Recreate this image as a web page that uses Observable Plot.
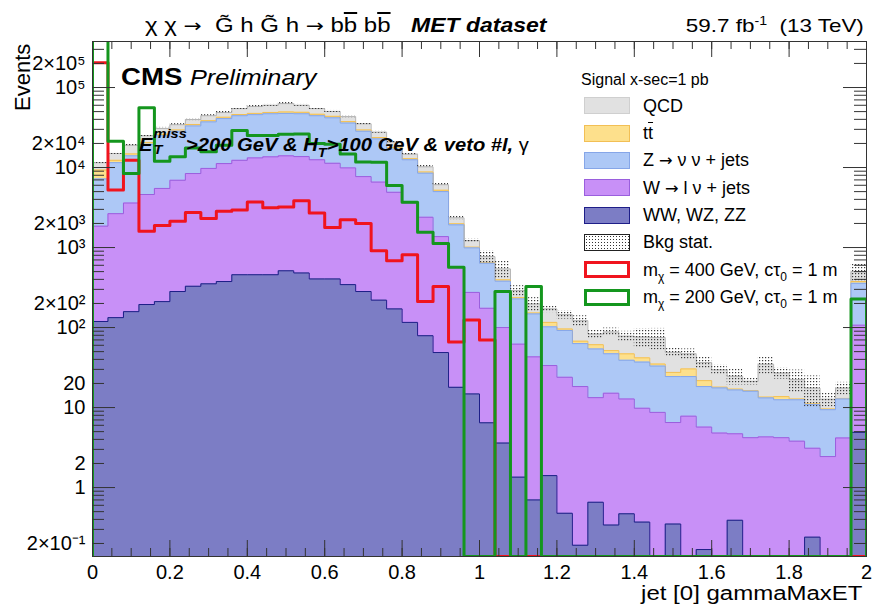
<!DOCTYPE html>
<html><head><meta charset="utf-8">
<script src="https://cdn.jsdelivr.net/npm/d3@7"></script>
<script src="https://cdn.jsdelivr.net/npm/@observablehq/plot@0.6"></script>
<style>
body{margin:0;background:#fff;}
#wrap{position:relative;width:875px;height:613px;font-family:"Liberation Sans",Arial,sans-serif;color:#000;overflow:hidden;}
#wrap svg{position:absolute;left:0;top:0;}
.ov{position:absolute;white-space:nowrap;line-height:1;}
.ol{text-decoration:overline;}
.ar{font-family:"DejaVu Sans",sans-serif;font-size:0.9em;}
.lg{position:absolute;left:584px;width:46px;height:17px;box-sizing:border-box;}
.lt{position:absolute;left:643px;font-size:18px;line-height:1;white-space:nowrap;}
.lt sub{font-size:12px;vertical-align:-5px;line-height:0;}
</style></head><body><div id="wrap"></div>
<script>
// ---------- data (50 bins of width 0.04 on [0,2]) ----------
const binWidth = 0.04;
// cumulative stack tops
const stackTotal = [11500,15000,19000,25000,30800,34300,39800,44400,48700,54600,58000,60000,63000,60000,54600,50300,43300,35200,27700,20800,14700,10200,6100,2350,1220,770,540,290,197,171,145,122,83,88,78,76,75,49,47,36.5,29.6,24.6,21.3,34.8,27,22.3,17.5,12.7,17.5,500];
const stackTT = [9300,12300,14800,20500,26000,29500,34500,38500,42500,46000,47500,48800,49500,49000,46300,43600,37500,29500,23700,17700,12900,8800,5200,1980,1010,652,395,236,152,116,96,67.5,61,51.5,46.9,41.8,35,27.5,30.4,21.7,18,17,16.3,13.5,13.7,12.8,11.1,9.6,13,376];
const stackZ = [7200,11500,14000,19500,24900,28400,33100,37200,40900,44400,45800,47000,47500,47000,44400,41800,36000,28400,22800,17000,12500,8500,5000,1920,990,636,380,228,148,102,92,63,54,47,39,37,33,24.4,24.4,18.3,17.6,16.6,16,13.2,12.5,12.5,10.9,9.4,12.8,357];
const stackW = [1850,2650,3600,4600,5480,6930,8410,9750,11200,12300,13200,13600,14000,13700,12500,11300,9900,7700,6570,4900,3600,2390,1370,560,275,174,100,62,43,33.5,23.9,18.3,13.3,15.1,12.8,9.8,8.7,6.5,7.8,5.7,4.8,4.7,4.2,4.3,4.2,3.8,3.1,2.44,4.17,107];
const stackVV = [119,133,158,194,211,282,328,352,376,457,457,457,512,481,405,405,344,282,220,171,116,79,48.7,17.9,14.8,6.45,3.6,1.35,0.70,1.41,0.477,0.19,0.655,0.34,0.47,0.37,0,0.35,0,0.168,0,0.39,0,0,0,0,0.24,0,0,4.9];
// relative background stat. uncertainty
const statErr = [0.03,0.03,0.03,0.03,0.03,0.03,0.03,0.03,0.03,0.03,0.03,0.03,0.03,0.03,0.03,0.03,0.03,0.03,0.03,0.03,0.03,0.04,0.04,0.05,0.06,0.18,0.25,0.15,0.2,0.1,0.12,0.15,0.12,0.12,0.15,0.28,0.3,0.12,0.15,0.18,0.15,0.22,0.1,0.25,0.16,0.32,0.42,0.2,0.18,0.25];
// signals
const sig400 = [204000,5250,12300,1600,1890,2130,2740,2310,2840,2950,3700,3150,3220,3840,2700,1780,2220,1990,910,685,812,212,325,66,124,70,0,0,0,0,0,0,0,0,0,0,0,0,0,0,0,0,0,0,0,0,0,0,0,0];
const sig200 = [500000,21300,8400,55800,12000,13600,17500,15700,19000,29000,25200,25200,26000,26300,20000,19500,14800,11700,11600,5960,3690,1550,1120,565,0,0,283,0,325,0,0,0,0,0,0,0,0,0,0,0,0,0,0,0,0,0,0,0,0,228];
// tick labels
const xLabelValues = [0,0.2,0.4,0.6,0.8,1,1.2,1.4,1.6,1.8,2];
const xLabelText = ["0","0.2","0.4","0.6","0.8","1","1.2","1.4","1.6","1.8","2"];
const yLabelValues = [0.2,1,2,10,20,100,200,1000,2000,10000,20000,100000,200000];
const yLabelText = ["2×10⁻¹","1","2","10","20","10²","2×10²","10³","2×10³","10⁴","2×10⁴","10⁵","2×10⁵"];

// ---------- layout / style ----------
const W = 875, H = 613, mL = 92, mR = 9, mT = 41, mB = 57;
const fW = W - mL - mR, fH = H - mT - mB;
const yMin = 0.1375, yMax = 3.76e5;
const nB = stackTotal.length;
const edges = d3.range(nB + 1).map(i => +(i * binWidth).toFixed(2));

function area(vals) {
  const p = vals.map((v, i) => ({x: edges[i], y: Math.max(v, yMin), y0: yMin}));
  p.push({x: edges[nB], y: Math.max(vals[nB - 1], yMin), y0: yMin});
  return p;
}
function outline(vals) {
  const p = [{x: 0, y: yMin}];
  vals.forEach((v, i) => p.push({x: edges[i], y: Math.max(v, yMin)}));
  p.push({x: edges[nB], y: Math.max(vals[nB - 1], yMin)});
  p.push({x: edges[nB], y: yMin});
  return p;
}
const layers = [
  {v: stackTotal, fill: "#e1e1e1", stroke: "#b4b4b4"},
  {v: stackTT, fill: "#fde08c", stroke: "#f2bf55"},
  {v: stackZ, fill: "#adc8f6", stroke: "#86a6e8"},
  {v: stackW, fill: "#c890f7", stroke: "#9a5fdd"},
  {v: stackVV, fill: "#7c7dc5", stroke: "#1e1e88"}
];
const hatch = stackTotal.map((t, i) => ({x1: edges[i], x2: edges[i + 1], lo: t * (1 - statErr[i]), hi: t * (1 + statErr[i])}));

const xMinor = d3.range(0, 41).map(i => +(i * 0.05).toFixed(2)).filter(v => v > 0 && v < 2);
const xMajor = xMinor.filter(v => Math.abs(v / 0.2 - Math.round(v / 0.2)) < 1e-6);
const yMajor = [], yMinorT = [];
for (let n = -1; n <= 5; n++) for (let k = 1; k <= 9; k++) {
  const v = k * Math.pow(10, n);
  if (v > yMin && v < yMax) (k === 1 ? yMajor : yMinorT).push(v);
}

const marks = [];
for (const L of layers) {
  marks.push(Plot.areaY(area(L.v), {x: "x", y1: "y0", y2: "y", curve: "step-after", fill: L.fill, clip: true}));
  marks.push(Plot.line(outline(L.v), {x: "x", y: "y", curve: "step-after", stroke: L.stroke, strokeWidth: 1, clip: true}));
}
marks.push(Plot.rect(hatch, {x1: "x1", x2: "x2", y1: "lo", y2: "hi", fill: "url(#dots)", clip: true}));
marks.push(Plot.line(outline(sig400), {x: "x", y: "y", curve: "step-after", stroke: "#f0141e", strokeWidth: 3, clip: true}));
marks.push(Plot.line(outline(sig200), {x: "x", y: "y", curve: "step-after", stroke: "#14961e", strokeWidth: 3, clip: true}));
// inside ticks (ROOT style) on all four sides
marks.push(Plot.tickX(xMajor, {x: d => d, stroke: "#333", insetTop: fH - 16}));
marks.push(Plot.tickX(xMinor, {x: d => d, stroke: "#333", insetTop: fH - 8}));
marks.push(Plot.tickX(xMajor, {x: d => d, stroke: "#333", insetBottom: fH - 16}));
marks.push(Plot.tickX(xMinor, {x: d => d, stroke: "#333", insetBottom: fH - 8}));
marks.push(Plot.tickY(yMajor, {y: d => d, stroke: "#333", insetRight: fW - 23}));
marks.push(Plot.tickY(yMinorT, {y: d => d, stroke: "#333", insetRight: fW - 12}));
marks.push(Plot.tickY(yMajor, {y: d => d, stroke: "#333", insetLeft: fW - 23}));
marks.push(Plot.tickY(yMinorT, {y: d => d, stroke: "#333", insetLeft: fW - 12}));
marks.push(Plot.frame({stroke: "#333", strokeWidth: 1}));
marks.push(Plot.axisX({ticks: xLabelValues, tickFormat: (d, i) => xLabelText[i], tickSize: 0, tickPadding: 8, fontSize: 20, label: null}));
marks.push(Plot.text(yLabelValues, {y: d => d, text: (d, i) => yLabelText[i], frameAnchor: "left", dx: -7, textAnchor: "end", fontSize: 20, fill: "#000"}));

const svg = Plot.plot({
  width: W, height: H,
  marginLeft: mL, marginRight: mR, marginTop: mT, marginBottom: mB,
  x: {domain: [0, 2], axis: null},
  y: {type: "log", domain: [yMin, yMax], axis: null},
  style: {fontFamily: "'Liberation Sans', Arial, sans-serif", fontSize: "20px", color: "#000", background: "transparent"},
  marks
});
// dotted pattern for the bkg stat. band
const NS = "http://www.w3.org/2000/svg";
const defs = document.createElementNS(NS, "defs");
const pat = document.createElementNS(NS, "pattern");
pat.setAttribute("id", "dots"); pat.setAttribute("width", "3"); pat.setAttribute("height", "3");
pat.setAttribute("patternUnits", "userSpaceOnUse");
const dot = document.createElementNS(NS, "rect");
dot.setAttribute("width", "1.2"); dot.setAttribute("height", "1.2"); dot.setAttribute("fill", "#3a3a3a");
pat.appendChild(dot); defs.appendChild(pat); svg.insertBefore(defs, svg.firstChild);

const wrap = document.getElementById("wrap");
wrap.appendChild(svg);

const overlay = `
<div class="ov" style="left:145px;top:15px;font-size:20px;transform:scaleX(1.2);transform-origin:left top;">χ χ <span class="ar">→</span>&nbsp; G̃ h G̃ h <span class="ar">→</span> b<span class="ol">b</span> b<span class="ol">b</span></div>
<div class="ov" style="left:411px;top:15px;font-size:20px;font-weight:bold;font-style:italic;transform:scaleX(1.15);transform-origin:left top;">MET dataset</div>
<div class="ov" style="right:11px;top:16px;font-size:19px;transform:scaleX(1.18);transform-origin:right top;">59.7 fb<span style="font-size:12px;vertical-align:7px;line-height:0">-1</span>&nbsp; (13 TeV)</div>
<div class="ov" style="left:121px;top:65px;font-size:24px;font-weight:bold;transform:scaleX(1.15);transform-origin:left top;">CMS</div>
<div class="ov" style="left:190px;top:67px;font-size:22px;font-style:italic;transform:scaleX(1.15);transform-origin:left top;">Preliminary</div>
<div class="ov" style="left:139px;top:136px;font-size:18px;font-weight:bold;font-style:italic;transform:scaleX(1.12);transform-origin:left top;">E<span style="position:relative;display:inline-block;width:30px;height:10px;"><span style="position:absolute;left:1px;top:-14px;font-size:13px;">miss</span><span style="position:absolute;left:1px;top:2px;font-size:13px;">T</span></span>&gt;200 GeV &amp; H<span style="font-size:13px;vertical-align:-6px;line-height:0">T</span>&gt;100 GeV &amp; veto #l, <span style="font-weight:normal;font-style:normal">γ</span></div>
<div class="ov" style="left:12px;top:111px;font-size:22px;transform:rotate(-90deg);transform-origin:left top;">Events</div>
<div class="ov" style="right:12px;top:583px;font-size:20px;transform:scaleX(1.2);transform-origin:right top;">jet [0] gammaMaxET</div>
<div class="ov" style="left:581px;top:72px;font-size:16px;">Signal x-sec=1 pb</div>
<div class="lg" style="top:97px;background:#e1e1e1;border:1px solid #cfcfcf;"></div><div class="lt" style="top:97px;">QCD</div>
<div class="lg" style="top:125px;background:#fde08c;border:1px solid #f2bf55;"></div><div class="lt" style="top:124px;">t<span class="ol">t</span></div>
<div class="lg" style="top:152px;background:#adc8f6;border:1px solid #86a6e8;"></div><div class="lt" style="top:151px;">Z <span class="ar">→</span> ν ν + jets</div>
<div class="lg" style="top:179px;background:#c890f7;border:1px solid #9a5fdd;"></div><div class="lt" style="top:179px;">W <span class="ar">→</span> l ν + jets</div>
<div class="lg" style="top:207px;background:#7c7dc5;border:1px solid #1e1e88;"></div><div class="lt" style="top:206px;">WW, WZ, ZZ</div>
<div class="lg" style="top:234px;background-color:#fff;background-image:radial-gradient(#333 0.7px, transparent 0.8px);background-size:3px 3px;border:1px solid #222;"></div><div class="lt" style="top:233px;">Bkg stat.</div>
<div class="lg" style="top:261px;border:3px solid #f0141e;background:#fff;"></div><div class="lt" style="top:261px;">m<sub>χ</sub> = 400 GeV, cτ<sub>0</sub> = 1 m</div>
<div class="lg" style="top:289px;border:3px solid #14961e;background:#fff;"></div><div class="lt" style="top:288px;">m<sub>χ</sub> = 200 GeV, cτ<sub>0</sub> = 1 m</div>
`;
wrap.insertAdjacentHTML("beforeend", overlay);
</script>
</body></html>
